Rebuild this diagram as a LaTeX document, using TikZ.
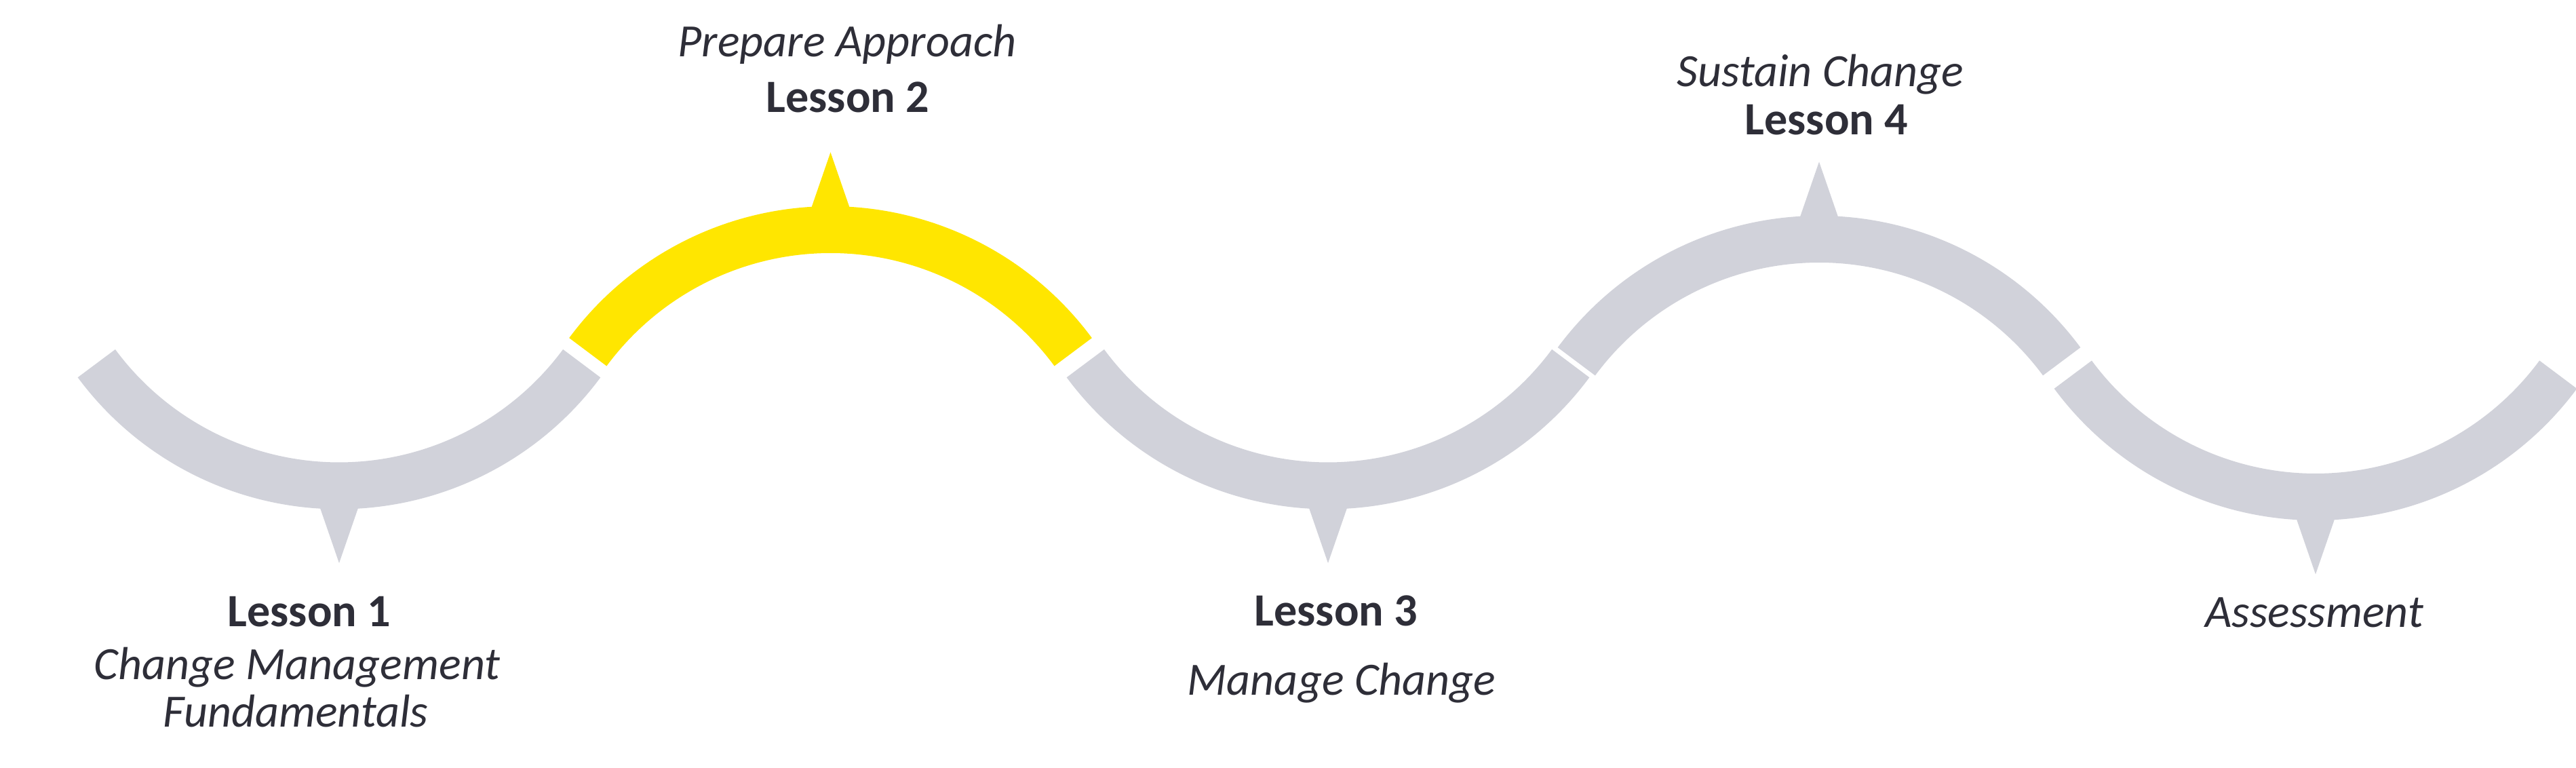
\documentclass[tikz,border=0pt]{standalone}
\usepackage{fontspec}
\setmainfont{Carlito}
\usepackage{tikz}
\usetikzlibrary{positioning}
\definecolor{eyyellow}{HTML}{FFE600}
\definecolor{arcgray}{HTML}{D1D2DA}
\definecolor{textdark}{HTML}{2E2E38}

\begin{document}
\begin{tikzpicture}[band/.style={line width=0.69cm},
    lesson/.style={font=\fontsize{19.4}{23}\selectfont\bfseries,text=textdark,anchor=base,inner sep=0pt},
    topic/.style={font=\fontsize{19.4}{23}\selectfont\itshape,text=textdark,anchor=base,inner sep=0pt}]
  \useasboundingbox (0,0) rectangle (37.98,11.32);
  % low and high points of the wave
  \coordinate (d1) at (5.00,4.16);
  \coordinate (u2) at (12.245,7.935);
  \coordinate (d3) at (19.58,4.16);
  \coordinate (u4) at (26.82,7.795);
  \coordinate (d5) at (34.14,3.995);
  % valleys
  \foreach \p/\c in {d1/arcgray,d3/arcgray,d5/arcgray}{
    \draw[band,\c] (\p) ++(0,4.45) ++(216.5:4.45) arc[start angle=216.5,end angle=323.5,radius=4.45];
    \fill[\c] ([xshift=-0.29cm,yshift=-0.3cm]\p) -- ([yshift=-1.14cm]\p) -- ([xshift=0.29cm,yshift=-0.3cm]\p) -- cycle;
  }
  % hills
  \foreach \p/\c in {u2/eyyellow,u4/arcgray}{
    \draw[band,\c] (\p) ++(0,-4.45) ++(36.5:4.45) arc[start angle=36.5,end angle=143.5,radius=4.45];
    \fill[\c] ([xshift=-0.29cm,yshift=0.3cm]\p) -- ([yshift=1.14cm]\p) -- ([xshift=0.29cm,yshift=0.3cm]\p) -- cycle;
  }
  % labels
  \node[lesson] (l1) at (4.56,2.08) {Lesson 1};
  \node[topic] (cm) at (4.38,1.30) {Change Management};
  \node[topic] (fund) at (4.36,0.60) {Fundamentals};
  \node[topic] (prep) at (12.49,10.48) {Prepare Approach};
  \node[lesson] (l2) at (12.50,9.66) {Lesson 2};
  \node[lesson] (l3) at (19.70,2.09) {Lesson 3};
  \node[topic] (mc) at (19.78,1.07) {Manage Change};
  \node[topic] (sc) at (26.84,10.04) {Sustain Change};
  \node[lesson] (l4) at (26.93,9.33) {Lesson 4};
  \node[topic] (assess) at (34.12,2.07) {Assessment};
\end{tikzpicture}
\end{document}
